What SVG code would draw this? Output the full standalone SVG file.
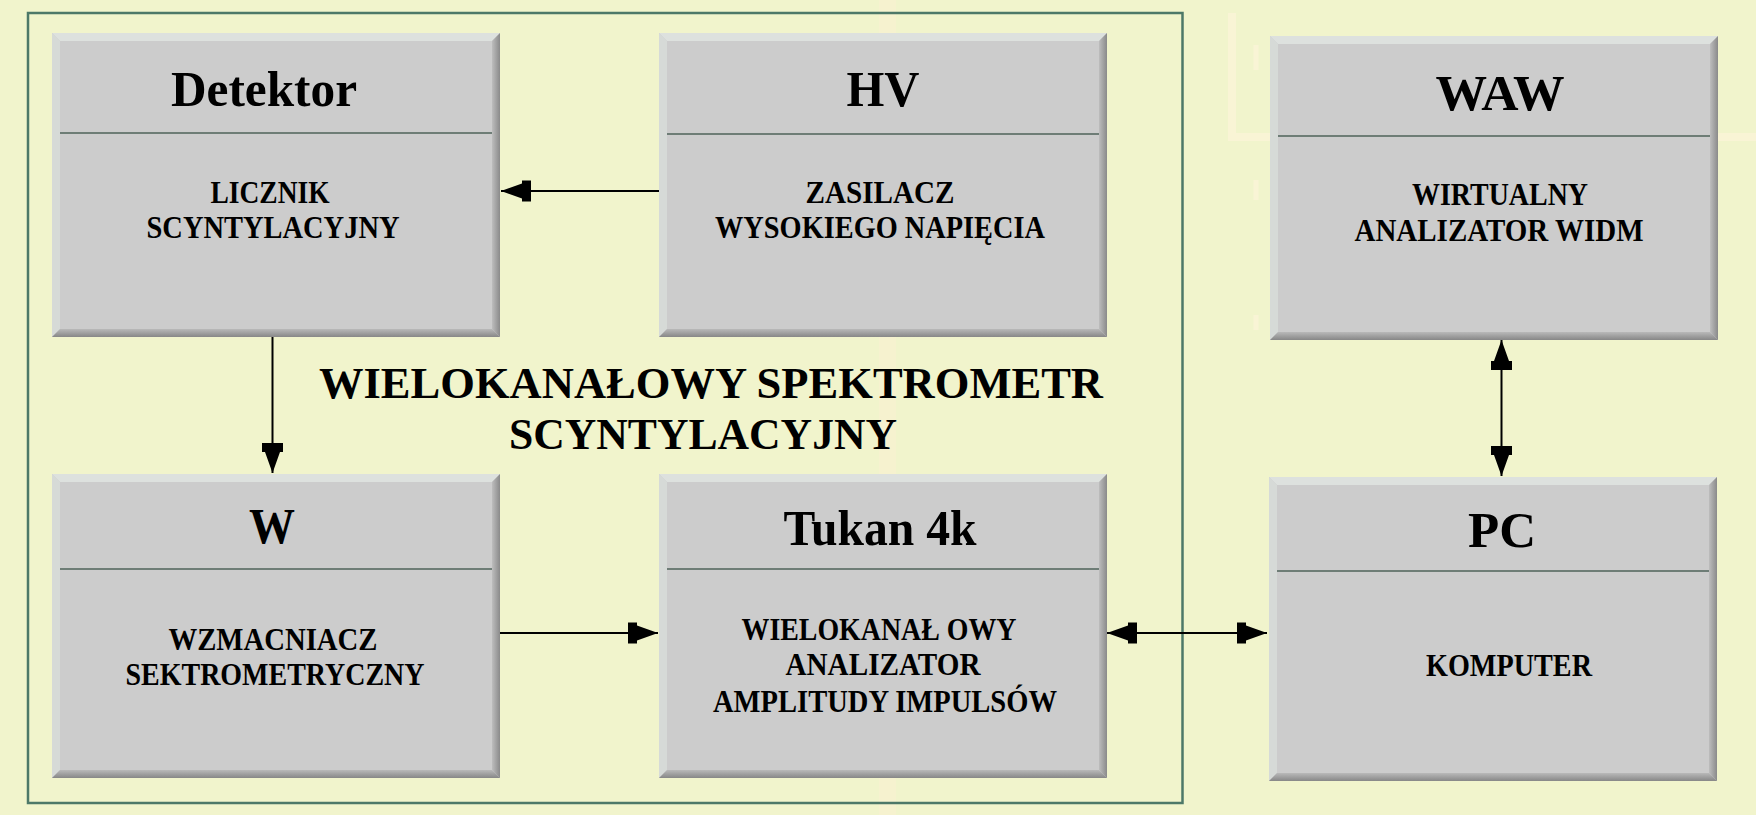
<svg xmlns="http://www.w3.org/2000/svg" xmlns:xlink="http://www.w3.org/1999/xlink" width="1756" height="815" viewBox="0 0 1756 815">
<style>
.title{font-family:"Liberation Serif","Times New Roman",serif;font-weight:bold;font-size:50px;fill:#000;text-anchor:middle}
.body{font-family:"Liberation Serif","Times New Roman",serif;font-weight:bold;font-size:31px;fill:#000;text-anchor:middle}
.big{font-family:"Liberation Serif","Times New Roman",serif;font-weight:bold;font-size:44px;fill:#000;text-anchor:middle}
.div{stroke:#6e7d76;stroke-width:2}
.conn{stroke:#000;stroke-width:2;fill:none}
.faint{stroke:#f9f4d5;fill:none}
</style>
<defs>
<linearGradient id="gR" x1="0" y1="0" x2="1" y2="0"><stop offset="0" stop-color="#bdbdbd"/><stop offset="1" stop-color="#8a8a8a"/></linearGradient>
<linearGradient id="gB" x1="0" y1="0" x2="0" y2="1"><stop offset="0" stop-color="#b9b9b9"/><stop offset="1" stop-color="#878787"/></linearGradient>
<g id="box">
<rect x="0" y="0" width="448" height="304" fill="#cccccc"/>
<polygon points="0,0 448,0 440,8 8,8" fill="#dde1de"/>
<polygon points="0,0 8,8 8,296 0,304" fill="#d6dad7"/>
<polygon points="448,0 448,304 440,296 440,8" fill="url(#gR)"/>
<polygon points="0,304 448,304 440,296 8,296" fill="url(#gB)"/>
</g>
<marker id="ah" viewBox="-31 -11 32 22" refX="0" refY="0" markerWidth="32" markerHeight="22" markerUnits="userSpaceOnUse" orient="auto-start-reverse">
<polygon points="0,0 -21,-7.5 -21,-10.5 -30,-10.5 -30,10.5 -21,10.5 -21,7.5" fill="#000"/>
</marker>
</defs>
<rect x="0" y="0" width="1756" height="815" fill="#f1f4cc"/>
<g id="background-marks">
<rect x="879" y="0" width="17" height="815" fill="#f6f2cf"/>
<path class="faint" d="M1232,13 V137 H1756" stroke-width="8"/>
<path class="faint" d="M1256,45 V70 M1256,180 V200 M1256,315 V330" stroke-width="5"/>
</g>
<rect id="frame" x="28" y="13" width="1154.5" height="790" fill="none" stroke="#4d7868" stroke-width="2.5"/>
<g id="connectors">
<line class="conn" x1="659" y1="191" x2="501" y2="191" marker-end="url(#ah)"/>
<line class="conn" x1="272.5" y1="337" x2="272.5" y2="473" marker-end="url(#ah)"/>
<line class="conn" x1="500" y1="633" x2="658" y2="633" marker-end="url(#ah)"/>
<line class="conn" x1="1107" y1="633" x2="1267" y2="633" marker-start="url(#ah)" marker-end="url(#ah)"/>
<line class="conn" x1="1501.5" y1="340" x2="1501.5" y2="476" marker-start="url(#ah)" marker-end="url(#ah)"/>
</g>
<g id="node-detektor">
<use xlink:href="#box" href="#box" x="52" y="33"/>
<line class="div" x1="60" y1="133" x2="492" y2="133"/>
<text class="title" x="264" y="106" textLength="186" lengthAdjust="spacingAndGlyphs">Detektor</text>
<text class="body" x="270" y="203" textLength="119" lengthAdjust="spacingAndGlyphs">LICZNIK</text>
<text class="body" x="273" y="238" textLength="253" lengthAdjust="spacingAndGlyphs">SCYNTYLACYJNY</text>
</g>
<g id="node-hv">
<use xlink:href="#box" href="#box" x="659" y="33"/>
<line class="div" x1="667" y1="134" x2="1099" y2="134"/>
<text class="title" x="883" y="106" textLength="73" lengthAdjust="spacingAndGlyphs">HV</text>
<text class="body" x="880" y="203" textLength="149" lengthAdjust="spacingAndGlyphs">ZASILACZ</text>
<text class="body" x="880" y="238" textLength="330" lengthAdjust="spacingAndGlyphs">WYSOKIEGO NAPIĘCIA</text>
</g>
<g id="node-waw">
<use xlink:href="#box" href="#box" x="1270" y="36"/>
<line class="div" x1="1278" y1="136" x2="1710" y2="136"/>
<text class="title" x="1500" y="110" textLength="129" lengthAdjust="spacingAndGlyphs">WAW</text>
<text class="body" x="1500" y="205" textLength="176" lengthAdjust="spacingAndGlyphs">WIRTUALNY</text>
<text class="body" x="1499" y="241" textLength="289" lengthAdjust="spacingAndGlyphs">ANALIZATOR WIDM</text>
</g>
<g id="node-w">
<use xlink:href="#box" href="#box" x="52" y="474"/>
<line class="div" x1="60" y1="569" x2="492" y2="569"/>
<text class="title" x="272" y="543" textLength="46" lengthAdjust="spacingAndGlyphs">W</text>
<text class="body" x="273" y="650" textLength="209" lengthAdjust="spacingAndGlyphs">WZMACNIACZ</text>
<text class="body" x="275" y="685" textLength="299" lengthAdjust="spacingAndGlyphs">SEKTROMETRYCZNY</text>
</g>
<g id="node-tukan">
<use xlink:href="#box" href="#box" x="659" y="474"/>
<line class="div" x1="667" y1="569" x2="1099" y2="569"/>
<text class="title" x="880" y="545" textLength="193" lengthAdjust="spacingAndGlyphs">Tukan 4k</text>
<text class="body" x="879" y="640" textLength="275" lengthAdjust="spacingAndGlyphs">WIELOKANAŁ OWY</text>
<text class="body" x="883" y="675" textLength="195" lengthAdjust="spacingAndGlyphs">ANALIZATOR</text>
<text class="body" x="885" y="712" textLength="344" lengthAdjust="spacingAndGlyphs">AMPLITUDY IMPULSÓW</text>
</g>
<g id="node-pc">
<use xlink:href="#box" href="#box" x="1269" y="477"/>
<line class="div" x1="1277" y1="571" x2="1709" y2="571"/>
<text class="title" x="1502" y="547" textLength="68" lengthAdjust="spacingAndGlyphs">PC</text>
<text class="body" x="1509" y="676" textLength="166" lengthAdjust="spacingAndGlyphs">KOMPUTER</text>
</g>
<g id="label-group">
<text class="big" x="711" y="398" textLength="784" lengthAdjust="spacingAndGlyphs">WIELOKANAŁOWY SPEKTROMETR</text>
<text class="big" x="703" y="449" textLength="388" lengthAdjust="spacingAndGlyphs">SCYNTYLACYJNY</text>
</g>
</svg>
